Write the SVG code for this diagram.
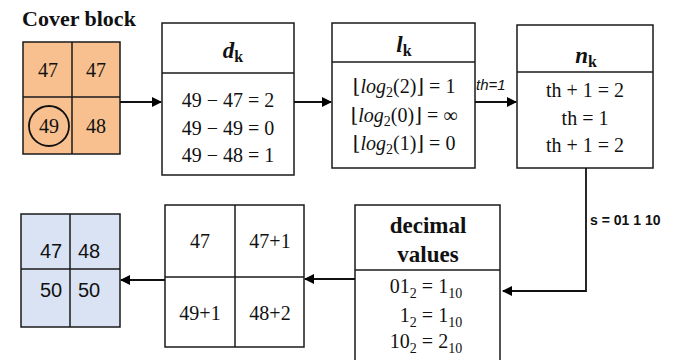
<svg xmlns="http://www.w3.org/2000/svg" width="688" height="360" viewBox="0 0 688 360">
<defs>
<marker id="ah" markerWidth="10" markerHeight="10" refX="9" refY="5" orient="auto" markerUnits="userSpaceOnUse">
<path d="M0,0 L10,5 L0,10 z" fill="#000"/>
</marker>
<style>
.box{fill:#fff;stroke:#1a1a1a;stroke-width:1.5}
.grid{stroke:#1a1a1a;stroke-width:1.5}
.t{font-family:"Liberation Serif","DejaVu Serif",serif;font-size:20px;fill:#111;text-anchor:middle}
.h{font-family:"Liberation Serif","DejaVu Serif",serif;font-size:23px;font-weight:bold;fill:#111;text-anchor:middle}
.s{font-family:"Liberation Sans",sans-serif;font-size:20px;fill:#111;text-anchor:middle}
.c{fill:none;stroke:#111;stroke-width:1.8}
</style>
</defs>
<g id="cover">
<text x="22" y="26" font-family="Liberation Serif,serif" font-size="22" font-weight="bold" fill="#111">Cover block</text>
<rect x="23" y="42" width="97" height="112" fill="#f8c08f" stroke="#1a1a1a" stroke-width="1.5"/>
<line class="grid" x1="72" y1="42" x2="72" y2="154"/>
<line class="grid" x1="23" y1="97" x2="120" y2="97"/>
<text class="t" x="48" y="77" font-size="22">47</text>
<text class="t" x="96" y="77" font-size="22">47</text>
<text class="t" x="49" y="133" font-size="22">49</text>
<text class="t" x="96" y="133" font-size="22">48</text>
<circle cx="49" cy="126" r="20" fill="none" stroke="#111" stroke-width="1.8"/>
</g>
<g id="dk">
<rect class="box" x="162" y="23" width="132" height="152"/>
<line class="grid" x1="162" y1="73" x2="294" y2="73"/>
<text class="h" x="233" y="58"><tspan font-style="italic">d</tspan><tspan font-size="16" dy="4">k</tspan></text>
<text class="t" x="228" y="107">49 − 47 = 2</text>
<text class="t" x="228" y="135">49 − 49 = 0</text>
<text class="t" x="228" y="162">49 − 48 = 1</text>
</g>
<g id="lk">
<rect class="box" x="332" y="23" width="143" height="145"/>
<line class="grid" x1="332" y1="62" x2="475" y2="62"/>
<text class="h" x="404" y="52"><tspan font-style="italic">l</tspan><tspan font-size="16" dy="4">k</tspan></text>
<text class="t" x="404" y="93">⌊<tspan font-style="italic">log</tspan><tspan font-size="14" dy="4">2</tspan><tspan dy="-4">(2)⌋ = 1</tspan></text>
<text class="t" x="404" y="122">⌊<tspan font-style="italic">log</tspan><tspan font-size="14" dy="4">2</tspan><tspan dy="-4">(0)⌋ = ∞</tspan></text>
<text class="t" x="404" y="150">⌊<tspan font-style="italic">log</tspan><tspan font-size="14" dy="4">2</tspan><tspan dy="-4">(1)⌋ = 0</tspan></text>
</g>
<g id="nk">
<rect class="box" x="517" y="25" width="136" height="143"/>
<line class="grid" x1="517" y1="72" x2="653" y2="72"/>
<text class="h" x="586" y="63"><tspan font-style="italic">n</tspan><tspan font-size="16" dy="4">k</tspan></text>
<text class="t" x="585" y="97">th + 1 = 2</text>
<text class="t" x="585" y="125">th = 1</text>
<text class="t" x="585" y="152">th + 1 = 2</text>
</g>
<g id="decimal">
<rect class="box" x="355" y="205" width="145" height="162"/>
<line class="grid" x1="355" y1="270" x2="500" y2="270"/>
<text class="h" x="428" y="233">decimal</text>
<text class="h" x="428" y="262">values</text>
<text class="t" x="426" y="293">01<tspan font-size="14" dy="5">2</tspan><tspan dy="-5"> = 1</tspan><tspan font-size="14" dy="5">10</tspan></text>
<text class="t" x="431" y="322">1<tspan font-size="14" dy="5">2</tspan><tspan dy="-5"> = 1</tspan><tspan font-size="14" dy="5">10</tspan></text>
<text class="t" x="426" y="348">10<tspan font-size="14" dy="5">2</tspan><tspan dy="-5"> = 2</tspan><tspan font-size="14" dy="5">10</tspan></text>
</g>
<g id="sum">
<rect class="box" x="165" y="205" width="139" height="142"/>
<line class="grid" x1="235" y1="205" x2="235" y2="347"/>
<line class="grid" x1="165" y1="277" x2="304" y2="277"/>
<text class="t" x="200" y="248">47</text>
<text class="t" x="270" y="248">47+1</text>
<text class="t" x="200" y="320">49+1</text>
<text class="t" x="270" y="320">48+2</text>
</g>
<g id="result">
<rect x="21" y="214" width="99" height="113" fill="#dae3f3" stroke="#1a1a1a" stroke-width="1.5"/>
<line class="grid" x1="70" y1="214" x2="70" y2="327"/>
<line class="grid" x1="21" y1="269" x2="120" y2="269"/>
<text class="s" x="51" y="258">47</text>
<text class="s" x="89" y="258">48</text>
<text class="s" x="51" y="297">50</text>
<text class="s" x="89" y="297">50</text>
</g>
<g id="connectors">
<line class="c" x1="120" y1="102" x2="161" y2="102" marker-end="url(#ah)"/>
<line class="c" x1="294" y1="102" x2="331" y2="102" marker-end="url(#ah)"/>
<line class="c" x1="475" y1="102" x2="516" y2="102" marker-end="url(#ah)"/>
<text x="476" y="90" font-family="Liberation Sans,sans-serif" font-size="15" font-style="italic" fill="#111">th=1</text>
<polyline class="c" points="586,168 586,291 503,291" marker-end="url(#ah)"/>
<text x="590" y="225" font-family="Liberation Sans Narrow,Liberation Sans,sans-serif" font-size="14" font-weight="bold" fill="#111">s = 01 1 10</text>
<line class="c" x1="355" y1="279" x2="305" y2="279" marker-end="url(#ah)"/>
<line class="c" x1="165" y1="280" x2="121" y2="280" marker-end="url(#ah)"/>
</g>
</svg>
